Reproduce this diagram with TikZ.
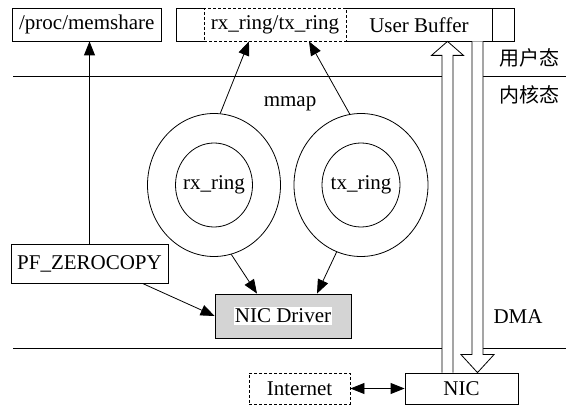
\documentclass[tikz,border=0pt]{standalone}
\usepackage{fontspec}
\setmainfont{Liberation Serif}
\newfontfamily\cjkfont{Noto Sans CJK SC}
\usetikzlibrary{shapes.geometric,arrows.meta,calc}
\begin{document}
\begin{tikzpicture}[x=1pt,y=-1pt,
  every node/.style={font=\fontsize{21}{24}\selectfont, inner sep=0pt},
  every path/.style={line width=0.8pt},
  dsh/.style={dash pattern=on 3pt off 2pt},
  arr/.style={-{Triangle[length=14pt,width=11pt]}},
  darr/.style={{Triangle[length=14pt,width=11pt]}-{Triangle[length=14pt,width=11pt]}},
  blk/.style={fill=white},
  ring/.style={draw, ellipse, inner sep=0pt},
  cjk/.style={font=\cjkfont\fontsize{20}{24}\selectfont}
]
\useasboundingbox (0,0) rectangle (566,406);

% layer separators
\draw (13,76) -- (442,76);
\draw (483,76) -- (566,76);
\draw (13,348) -- (442,348);
\draw (483,348) -- (566,348);

% top row
\node[draw, minimum width=148.5pt, minimum height=32.5pt] (mem) at (86.75,24.75) {/proc/memshare};
\node[minimum width=337pt, minimum height=32.5pt] (bar) at (345.5,24.75) {};
\node[draw, dsh, minimum width=142pt, minimum height=32.5pt] (ringbox) at (275,24.75) {rx\_ring/tx\_ring};
\node[minimum width=146pt, minimum height=32.5pt] (ub) at (419,24.75) {User Buffer};
\draw (ringbox.north west) -- (bar.north west) -- (bar.south west) -- (ringbox.south west);
\draw (ringbox.north east) -- (bar.north east) -- (bar.south east) -- (ringbox.south east);
\draw (ub.north east) -- (ub.south east);

% labels
\node (mmap) at (290,104) {mmap};
\node[cjk] (user) at (529,58) {用户态};
\node[cjk] (kern) at (529,95) {内核态};
\node (dma) at (518,317) {DMA};

% rings
\node[ring, minimum width=133pt, minimum height=143pt] (rxo) at (214,185) {};
\node[ring, minimum width=77pt, minimum height=84pt] (rxi) at (214,185) {};
\node (rxt) at (rxi.center) {rx\_ring};
\node[ring, minimum width=134pt, minimum height=143pt] (txo) at (361,185) {};
\node[ring, minimum width=78pt, minimum height=84pt] (txi) at (361,185) {};
\node (txt) at (txi.center) {tx\_ring};

% lower boxes
\node[draw, minimum width=157pt, minimum height=39pt] (pf) at (89.5,263.5) {PF\_ZEROCOPY};
\node[draw, fill=black!17, minimum width=136pt, minimum height=44pt] (drv) at (283,316) {};
\node[fill=white, inner xsep=1pt, inner ysep=2pt] (drvt) at (drv.center) {NIC Driver};
\node[draw, dsh, minimum width=101pt, minimum height=31pt] (inet) at (299.5,388.5) {Internet};
\node[draw, minimum width=113pt, minimum height=31pt] (nic) at (461.5,388.5) {NIC};

% connectors
\draw[arr] (pf.north) -- (pf.north |- mem.south);
\draw[arr] ($(pf.south east)+(-26,0)$) -- (drv.west);
\draw[arr] (rxo.85) -- ($(ringbox.south)+(-26,0)$);
\draw[arr] (txo.99) -- ($(ringbox.south)+(34,0)$);
\draw[arr] (rxo.-76) -- ($(drv.north)+(-26,0)$);
\draw[arr] (txo.-110) -- ($(drv.north)+(34,0)$);
\draw[darr] (inet.east) -- (nic.west);

% DMA block arrows
\coordinate (ua) at (447.5,0);
\coordinate (da) at (477.5,0);
\draw[blk] ($(ua |- nic.north)+(-5.5,0)$) -- ($(ua |- ub.south)+(-5.5,14)$)
  -- ($(ua |- ub.south)+(-16,14)$) -- (ua |- ub.south)
  -- ($(ua |- ub.south)+(16,14)$) -- ($(ua |- ub.south)+(5.5,14)$)
  -- ($(ua |- nic.north)+(5.5,0)$);
\draw[blk] ($(da |- ub.south)+(-5.5,0)$) -- ($(da |- nic.north)+(-5.5,-18)$)
  -- ($(da |- nic.north)+(-16.5,-18)$) -- (da |- nic.north)
  -- ($(da |- nic.north)+(16.5,-18)$) -- ($(da |- nic.north)+(5.5,-18)$)
  -- ($(da |- ub.south)+(5.5,0)$);
\end{tikzpicture}
\end{document}
